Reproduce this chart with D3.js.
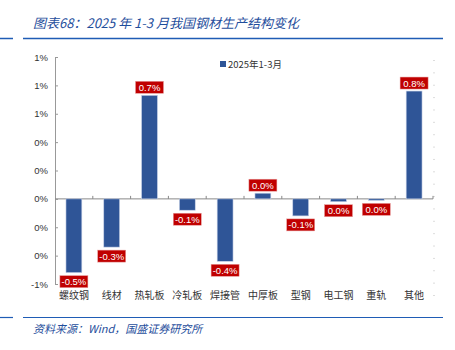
<!DOCTYPE html>
<html>
<head>
<meta charset="utf-8">
<script src="https://cdn.jsdelivr.net/npm/d3@7"></script>
<style>
  body { margin: 0; background: #fff; }
  svg { display: block; font-family: "Noto Sans CJK SC", "Liberation Sans", sans-serif; }
</style>
</head>
<body>
<div id="chart"></div>
<script>
// Data
const categories = ["螺纹钢", "线材", "热轧板", "冷轧板", "焊接管", "中厚板", "型钢", "电工钢", "重轨", "其他"];
const values = [-0.52, -0.34, 0.73, -0.08, -0.44, 0.04, -0.12, -0.02, -0.01, 0.76];
const yTicks = [-0.6, -0.4, -0.2, 0, 0.2, 0.4, 0.6, 0.8, 1.0];
const seriesName = "2025年1-3月";

const width = 455, height = 350;
const svg = d3.select("#chart").append("svg")
    .attr("width", width)
    .attr("height", height);

// plain hyphen instead of the unicode minus d3 puts in
const pct0 = d => {
    const r = Math.round(d);
    return (r < 0 ? "-" : "") + Math.abs(r) + "%";
};
const pct1 = d => (d < -0.05 ? "-" : "") + Math.abs(d).toFixed(1) + "%";

// Title and rules
svg.append("text")
    .attr("x", 33).attr("y", 28)
    .style("font-size", "13px")
    .style("font-style", "italic")
    .style("fill", "#1f4e9c")
    .text("图表68：2025 年 1-3 月我国钢材生产结构变化");
svg.append("line").attr("x1", 0).attr("x2", 13).attr("y1", 38.5).attr("y2", 38.5)
    .attr("stroke", "#1f5cb5").attr("stroke-width", 1.5);
svg.append("line").attr("x1", 23).attr("x2", 443).attr("y1", 38.5).attr("y2", 38.5)
    .attr("stroke", "#1f5cb5").attr("stroke-width", 1.5);

svg.append("line").attr("x1", 0).attr("x2", 13).attr("y1", 317.5).attr("y2", 317.5)
    .attr("stroke", "#1f5cb5").attr("stroke-width", 1.2);
svg.append("line").attr("x1", 23).attr("x2", 443).attr("y1", 317.5).attr("y2", 317.5)
    .attr("stroke", "#1f5cb5").attr("stroke-width", 1.2);
svg.append("text")
    .attr("x", 33).attr("y", 333)
    .style("font-size", "11px")
    .style("font-style", "italic")
    .style("fill", "#1f4e9c")
    .text("资料来源：Wind，国盛证券研究所");

// Scales
const x = d3.scaleBand()
    .domain(categories)
    .range([55, 433])
    .paddingInner(0.58)
    .paddingOuter(0.29);

const y = d3.scaleLinear()
    .domain([-0.6, 1.0])
    .range([284, 57]);

// Left axis
const yAxis = svg.append("g")
    .attr("transform", "translate(55,0)")
    .call(d3.axisLeft(y).tickValues(yTicks).tickSize(-3).tickPadding(7)
        .tickFormat(pct0));
yAxis.select(".domain").attr("stroke", "#999");
yAxis.selectAll(".tick line").attr("stroke", "#999");
yAxis.selectAll("text").style("font-size", "9.5px").style("fill", "#333")
    .style("font-family", "Liberation Sans, Arial, sans-serif");

// Right faint axis (secondary, ticks only)
const yRight = d3.scaleLinear().domain([0, 19]).range([60, 295]);
svg.append("g")
    .attr("transform", "translate(433,0)")
    .call(d3.axisRight(yRight).ticks(19).tickSize(2).tickFormat(""))
    .call(g => g.select(".domain").remove())
    .call(g => g.selectAll(".tick line").attr("stroke", "#ddd"));

// Zero baseline with category ticks
const zero = y(0);
svg.append("line")
    .attr("x1", 55).attr("x2", 433)
    .attr("y1", zero).attr("y2", zero)
    .attr("stroke", "#888");
const step = x.step();
svg.selectAll(".cat-tick")
    .data(d3.range(1, categories.length + 1))
    .enter().append("line")
    .attr("x1", i => 55 + i * step).attr("x2", i => 55 + i * step)
    .attr("y1", zero).attr("y2", zero - 3)
    .attr("stroke", "#888");

// Bars
svg.selectAll(".bar")
    .data(values)
    .enter().append("rect")
    .attr("x", (d, i) => x(categories[i]))
    .attr("width", x.bandwidth())
    .attr("y", d => Math.min(y(d), zero))
    .attr("height", d => Math.max(Math.abs(y(d) - zero), 1.5))
    .attr("fill", "#2f5597")
    .attr("stroke", "#c9d3e8")
    .attr("stroke-width", 0.6);

// Value labels in red boxes
const labelW = 28, labelH = 12;
const labels = svg.selectAll(".lbl")
    .data(values)
    .enter().append("g")
    .attr("transform", (d, i) => {
        const cx = x(categories[i]) + x.bandwidth() / 2;
        const yy = d >= 0 ? Math.min(y(d), zero) - 2 - labelH : Math.max(y(d), zero + 1.5) + 3;
        return `translate(${cx},${yy})`;
    });
labels.append("rect")
    .attr("x", -labelW / 2).attr("width", labelW)
    .attr("height", labelH)
    .attr("fill", "#c00000")
    .attr("stroke", "#e8a0a0").attr("stroke-width", 0.5);
labels.append("text")
    .attr("y", labelH / 2 + 3.5)
    .attr("text-anchor", "middle")
    .style("font-size", "9.5px")
    .style("font-family", "Liberation Sans, Arial, sans-serif")
    .style("fill", "#fff")
    .text(pct1);

// Category labels
svg.selectAll(".cat")
    .data(categories)
    .enter().append("text")
    .attr("x", d => x(d) + x.bandwidth() / 2)
    .attr("y", 299)
    .attr("text-anchor", "middle")
    .style("font-size", "10px")
    .style("fill", "#333")
    .text(d => d);

// Legend
svg.append("rect")
    .attr("x", 220).attr("y", 61).attr("width", 6).attr("height", 6)
    .attr("fill", "#2f5597");
svg.append("text")
    .attr("x", 228).attr("y", 67.5)
    .style("font-size", "9.5px")
    .style("fill", "#333")
    .text(seriesName);
</script>
</body>
</html>
